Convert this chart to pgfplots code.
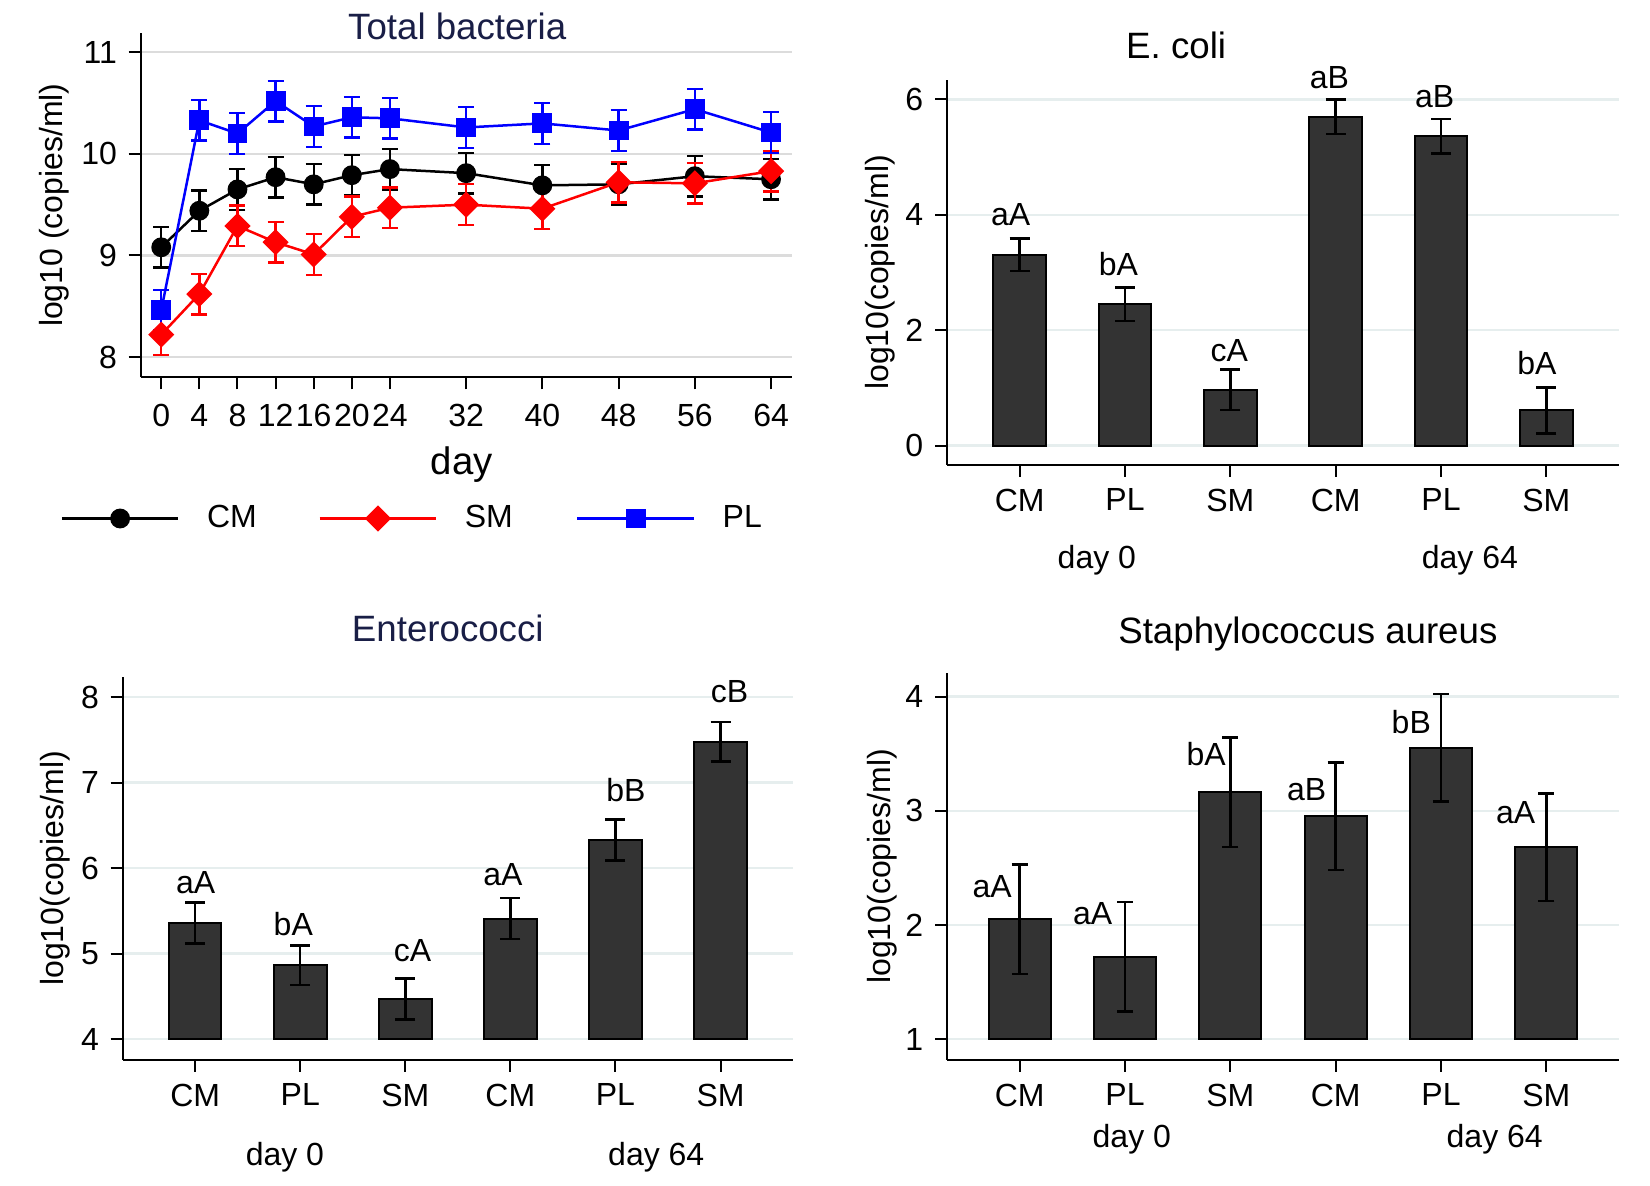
\documentclass[border=0pt]{standalone}
\usepackage{fontspec}
\setmainfont{Liberation Sans}
\usepackage{pgfplots}
\pgfplotsset{compat=1.18}
\definecolor{gridA}{RGB}{220,220,220}
\definecolor{gridB}{RGB}{230,238,238}
\definecolor{barfill}{RGB}{51,51,51}
\definecolor{navy}{RGB}{25,30,70}
\definecolor{myred}{RGB}{255,0,0}
\definecolor{myblue}{RGB}{0,0,255}
\newcommand{\f}{\fontsize{9.6pt}{11.5pt}\selectfont}
\newcommand{\ft}{\fontsize{11pt}{13pt}\selectfont}
\tikzset{lab/.style={font=\f, inner sep=0pt}, ttl/.style={font=\ft, inner sep=0pt, anchor=center}}
\pgfplotsset{
 common/.style={
  scale only axis, axis lines=left, axis line style={-, line width=0.6pt, black},
  tick align=outside, major tick length=3.6pt, tick style={line width=0.6pt, black},
  ymajorgrids, clip=false,
  ticklabel style={font=\f}, label style={font=\f},
  /pgf/number format/assume math mode=true,
  anchor=south west,
 },
 barax/.style={common, xmin=-0.69, xmax=5.69, xtick={0,1,2,3,4,5},
  xticklabels={CM,PL,SM,CM,PL,SM}, grid style={gridB, line width=0.7pt}},
 barstyle/.style={fill=barfill, draw=black, line width=0.6pt},
 ebar/.style={draw=none, mark=none, error bars/.cd, y dir=both, y explicit,
  error bar style={draw=black, line width=0.75pt, solid},
  error mark options={draw=black, line width=0.75pt, mark size=#1, rotate=90}},
 lebar/.style={error bars/.cd, y dir=both, y explicit, error bar style={line width=0.7pt, solid},
  error mark options={line width=0.7pt, mark size=2.4pt, rotate=90}},
}
\begin{document}
\begin{tikzpicture}
\useasboundingbox (0,0) rectangle (495pt,355.8pt);
% ---------------- Total bacteria ----------------
\begin{axis}[common, at={(42.2pt,242.6pt)}, width=195.4pt, height=103.3pt,
  xmin=-2.16, xmax=66.2, ymin=7.8, ymax=11.19,
  xtick={0,4,8,12,16,20,24,32,40,48,56,64}, ytick={8,9,10,11},
  xticklabel style={yshift=-1pt},
  grid style={gridA, line width=0.7pt},
  xlabel={day}, xlabel style={font=\fontsize{11.5pt}{13pt}\selectfont, at={(axis description cs:0.493,-0.252)}, anchor=center},
  ylabel={log10 (copies/ml)}, ylabel style={at={(axis description cs:-0.132,0.5)}, anchor=center},
  legend style={at={(axis description cs:-0.123,-0.41)}, anchor=west, draw=none, fill=none,
    inner sep=0pt, outer sep=0pt, font=\f, nodes={inner sep=0pt},
    /tikz/every odd column/.append style={column sep=8.2pt},
    /tikz/every even column/.append style={column sep=18.4pt}},
  legend columns=3,
  legend image code/.code={\draw[mark repeat=2,mark phase=2] plot coordinates {(0pt,0pt) (17.5pt,0pt) (35pt,0pt)};},
]
\addplot[black, line width=0.75pt, mark=*, mark size=2.6pt, lebar]
  coordinates {(0,9.08) +- (0,0.2) (4,9.44) +- (0,0.2) (8,9.65) +- (0,0.2) (12,9.77) +- (0,0.2)
  (16,9.70) +- (0,0.2) (20,9.79) +- (0,0.2) (24,9.85) +- (0,0.2) (32,9.81) +- (0,0.2)
  (40,9.69) +- (0,0.2) (48,9.70) +- (0,0.2) (56,9.78) +- (0,0.2) (64,9.75) +- (0,0.2)};
\addlegendentry{\makebox[15pt][l]{CM}}
\addplot[myred, line width=0.75pt, mark=square*, mark size=2.4pt, mark options={rotate=45}, lebar]
  coordinates {(0,8.22) +- (0,0.2) (4,8.62) +- (0,0.2) (8,9.29) +- (0,0.2) (12,9.13) +- (0,0.2)
  (16,9.01) +- (0,0.2) (20,9.38) +- (0,0.2) (24,9.47) +- (0,0.2) (32,9.50) +- (0,0.2)
  (40,9.46) +- (0,0.2) (48,9.72) +- (0,0.2) (56,9.71) +- (0,0.2) (64,9.83) +- (0,0.2)};
\addlegendentry{\makebox[15pt][l]{SM}}
\addplot[myblue, line width=0.75pt, mark=square*, mark size=2.6pt, lebar]
  coordinates {(0,8.46) +- (0,0.2) (4,10.33) +- (0,0.2) (8,10.20) +- (0,0.2) (12,10.52) +- (0,0.2)
  (16,10.27) +- (0,0.2) (20,10.36) +- (0,0.2) (24,10.35) +- (0,0.2) (32,10.26) +- (0,0.2)
  (40,10.30) +- (0,0.2) (48,10.23) +- (0,0.2) (56,10.44) +- (0,0.2) (64,10.21) +- (0,0.2)};
\addlegendentry{\makebox[15pt][l]{PL}}
\node[ttl, text=navy] at (axis description cs:0.486,1.02) {Total bacteria};
\end{axis}
% ---------------- E. coli ----------------
\begin{axis}[barax, at={(284.1pt,216.3pt)}, width=201.6pt, height=115.5pt,
  ymin=-0.335, ymax=6.335, ytick={0,2,4,6},
  ylabel={log10(copies/ml)}, ylabel style={at={(axis description cs:-0.0997,0.5)}, anchor=center}]
\addplot[barstyle] coordinates {(-0.25,0) (-0.25,3.31) (0.25,3.31) (0.25,0)} -- cycle;
\addplot[barstyle] coordinates {(0.75,0) (0.75,2.45) (1.25,2.45) (1.25,0)} -- cycle;
\addplot[barstyle] coordinates {(1.75,0) (1.75,0.97) (2.25,0.97) (2.25,0)} -- cycle;
\addplot[barstyle] coordinates {(2.75,0) (2.75,5.70) (3.25,5.70) (3.25,0)} -- cycle;
\addplot[barstyle] coordinates {(3.75,0) (3.75,5.36) (4.25,5.36) (4.25,0)} -- cycle;
\addplot[barstyle] coordinates {(4.75,0) (4.75,0.61) (5.25,0.61) (5.25,0)} -- cycle;
\addplot[ebar=3pt]
  coordinates {(0,3.31) +- (0,0.28) (1,2.45) +- (0,0.29) (2,0.97) +- (0,0.35)
  (3,5.70) +- (0,0.30) (4,5.36) +- (0,0.30) (5,0.61) +- (0,0.40)};
\node[lab, anchor=base] at (axis cs:-0.085,3.82) {aA};
\node[lab, anchor=base] at (axis cs:0.938,2.94) {bA};
\node[lab, anchor=base] at (axis cs:1.99,1.46) {cA};
\node[lab, anchor=base] at (axis cs:2.94,6.18) {aB};
\node[lab, anchor=base] at (axis cs:3.94,5.85) {aB};
\node[lab, anchor=base] at (axis cs:4.91,1.24) {bA};
\node[font=\f] at (axis description cs:0.223,-0.247) {day 0};
\node[font=\f] at (axis description cs:0.778,-0.247) {day 64};
\node[ttl] at (axis description cs:0.341,1.091) {E. coli};
\end{axis}
% ---------------- Enterococci ----------------
\begin{axis}[barax, at={(36.8pt,37.8pt)}, width=201.1pt, height=114.9pt,
  ymin=3.755, ymax=8.236, ytick={4,5,6,7,8},
  ylabel={log10(copies/ml)}, ylabel style={at={(axis description cs:-0.101,0.5)}, anchor=center}]
\addplot[barstyle] coordinates {(-0.25,4) (-0.25,5.36) (0.25,5.36) (0.25,4)} -- cycle;
\addplot[barstyle] coordinates {(0.75,4) (0.75,4.865) (1.25,4.865) (1.25,4)} -- cycle;
\addplot[barstyle] coordinates {(1.75,4) (1.75,4.47) (2.25,4.47) (2.25,4)} -- cycle;
\addplot[barstyle] coordinates {(2.75,4) (2.75,5.41) (3.25,5.41) (3.25,4)} -- cycle;
\addplot[barstyle] coordinates {(3.75,4) (3.75,6.33) (4.25,6.33) (4.25,4)} -- cycle;
\addplot[barstyle] coordinates {(4.75,4) (4.75,7.48) (5.25,7.48) (5.25,4)} -- cycle;
\addplot[ebar=3pt]
  coordinates {(0,5.36) +- (0,0.24) (1,4.865) +- (0,0.23) (2,4.47) +- (0,0.24)
  (3,5.41) +- (0,0.24) (4,6.33) +- (0,0.24) (5,7.48) +- (0,0.23)};
\node[lab, anchor=base] at (axis cs:0.005,5.708) {aA};
\node[lab, anchor=base] at (axis cs:0.934,5.217) {bA};
\node[lab, anchor=base] at (axis cs:2.07,4.905) {cA};
\node[lab, anchor=base] at (axis cs:2.93,5.797) {aA};
\node[lab, anchor=base] at (axis cs:4.10,6.778) {bB};
\node[lab, anchor=base] at (axis cs:5.085,7.937) {cB};
\node[font=\f] at (axis description cs:0.242,-0.253) {day 0};
\node[font=\f] at (axis description cs:0.796,-0.253) {day 64};
\node[ttl, text=navy] at (axis description cs:0.485,1.128) {Enterococci};
\end{axis}
% ---------------- Staphylococcus aureus ----------------
\begin{axis}[barax, at={(284.1pt,37.8pt)}, width=201.6pt, height=116.1pt,
  ymin=0.817, ymax=4.206, ytick={1,2,3,4},
  ylabel={log10(copies/ml)}, ylabel style={at={(axis description cs:-0.097,0.5)}, anchor=center}]
\addplot[barstyle] coordinates {(-0.295,1) (-0.295,2.05) (0.295,2.05) (0.295,1)} -- cycle;
\addplot[barstyle] coordinates {(0.705,1) (0.705,1.72) (1.295,1.72) (1.295,1)} -- cycle;
\addplot[barstyle] coordinates {(1.705,1) (1.705,3.16) (2.295,3.16) (2.295,1)} -- cycle;
\addplot[barstyle] coordinates {(2.705,1) (2.705,2.95) (3.295,2.95) (3.295,1)} -- cycle;
\addplot[barstyle] coordinates {(3.705,1) (3.705,3.55) (4.295,3.55) (4.295,1)} -- cycle;
\addplot[barstyle] coordinates {(4.705,1) (4.705,2.68) (5.295,2.68) (5.295,1)} -- cycle;
\addplot[ebar=2.4pt]
  coordinates {(0,2.05) +- (0,0.48) (1,1.72) +- (0,0.48) (2,3.16) +- (0,0.48)
  (3,2.95) +- (0,0.47) (4,3.55) +- (0,0.47) (5,2.68) +- (0,0.47)};
\node[lab, anchor=base east] at (axis cs:-0.07,2.24) {aA};
\node[lab, anchor=base east] at (axis cs:0.884,2.00) {aA};
\node[lab, anchor=base east] at (axis cs:1.963,3.40) {bA};
\node[lab, anchor=base east] at (axis cs:2.917,3.09) {aB};
\node[lab, anchor=base east] at (axis cs:3.91,3.68) {bB};
\node[lab, anchor=base east] at (axis cs:4.90,2.89) {aA};
\node[font=\f] at (axis description cs:0.275,-0.204) {day 0};
\node[font=\f] at (axis description cs:0.815,-0.204) {day 64};
\node[ttl] at (axis description cs:0.537,1.10) {Staphylococcus aureus};
\end{axis}
\end{tikzpicture}
\end{document}
